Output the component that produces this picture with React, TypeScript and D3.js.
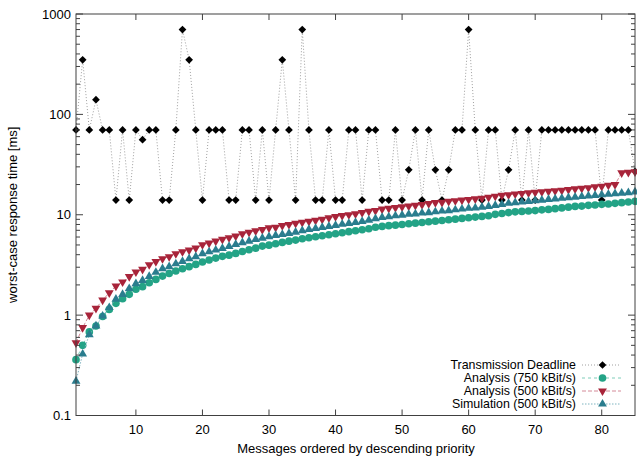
import React from 'react';
import * as d3 from 'd3';

// message index 1..85 (descending priority)
const deadline = [
  70, 350, 70, 140, 70, 70, 14, 70, 14, 70, 56, 70, 70, 14, 14, 70, 700, 350, 70, 14,
  70, 70, 70, 14, 14, 70, 70, 14, 70, 14, 70, 350, 70, 14, 700, 70, 14, 14, 70, 14,
  14, 70, 70, 14, 70, 70, 14, 14, 70, 14, 28, 70, 14, 70, 28, 14, 28, 70, 70, 700,
  70, 14, 70, 70, 14, 28, 70, 14, 70, 14, 70, 70, 70, 70, 70, 70, 70, 70, 70, 14,
  70, 70, 70, 70, 27,
];

const analysis750 = [
  0.36, 0.5, 0.68, 0.78, 0.97, 1.14, 1.31, 1.46, 1.61, 1.81, 1.92, 2.1, 2.27, 2.45, 2.6, 2.75, 2.9, 3.04, 3.2, 3.38,
  3.54, 3.7, 3.85, 3.96, 4.12, 4.3, 4.48, 4.65, 4.87, 4.98, 5.14, 5.3, 5.46, 5.59, 5.77, 5.9, 6.04, 6.18, 6.32, 6.47,
  6.62, 6.78, 6.93, 7.09, 7.26, 7.5, 7.65, 7.78, 7.88, 8.0, 8.13, 8.25, 8.38, 8.51, 8.63, 8.77, 8.91, 9.04, 9.19, 9.33,
  9.47, 9.62, 9.77, 10.1, 10.3, 10.5, 10.7, 10.8, 10.9, 11.0, 11.2, 11.3, 11.5, 11.7, 11.9, 12.1, 12.2, 12.4, 12.5, 12.7,
  12.8, 13.0, 13.2, 13.4, 13.6,
];

const analysis500 = [
  0.53, 0.75, 1.0, 1.17, 1.41, 1.67, 1.95, 2.14, 2.42, 2.69, 2.86, 3.18, 3.41, 3.65, 3.82, 4.09, 4.28, 4.45, 4.65, 5.03,
  5.22, 5.46, 5.68, 5.9, 6.12, 6.45, 6.7, 6.9, 7.1, 7.4, 7.5, 7.8, 8.0, 8.2, 8.4, 8.6, 8.8, 9.0, 9.3, 9.6,
  9.8, 10.0, 10.2, 10.5, 10.8, 11.0, 11.4, 11.6, 11.8, 12.0, 12.2, 12.4, 12.6, 12.9, 13.2, 13.3, 13.6, 13.8, 14.0, 14.2,
  14.4, 14.6, 14.9, 15.3, 15.6, 15.8, 16.1, 16.3, 16.5, 16.7, 16.9, 17.1, 17.3, 17.5, 17.8, 18.1, 18.3, 18.6, 19.0, 19.2,
  19.7, 20.0, 26.2, 26.4, 26.8,
];

const simulation500 = [
  0.22, 0.41, 0.64, 0.78, 0.98, 1.19, 1.44, 1.61, 1.84, 2.06, 2.22, 2.43, 2.67, 2.9, 3.04, 3.25, 3.43, 3.65, 3.82, 4.09,
  4.28, 4.45, 4.62, 4.84, 5.07, 5.27, 5.46, 5.68, 5.85, 6.04, 6.22, 6.37, 6.52, 6.71, 6.93, 7.14, 7.3, 7.47, 7.65, 7.83,
  8.06, 8.19, 8.38, 8.57, 8.85, 9.15, 9.4, 9.55, 9.77, 9.9, 10.1, 10.2, 10.4, 10.5, 10.7, 10.9, 11.0, 11.2, 11.4, 11.6,
  11.7, 11.9, 12.1, 12.4, 12.7, 13.0, 13.2, 13.4, 13.6, 13.8, 14.0, 14.2, 14.4, 14.6, 14.8, 15.0, 15.2, 15.4, 15.6, 15.8,
  16.0, 16.2, 16.4, 16.6, 16.9,
];

const xTicks = [10, 20, 30, 40, 50, 60, 70, 80];
const yTicks = [0.1, 1, 10, 100, 1000];
const yTickLabels = ['0.1', '1', '10', '100', '1000'];

const series = [
  { name: 'Transmission Deadline', values: deadline, color: '#000000', line: '#a0a0a0', dash: '1,2', symbol: 'diamond' },
  { name: 'Analysis (750 kBit/s)', values: analysis750, color: '#23a386', line: '#7fcdb9', dash: '3,3', symbol: 'circle' },
  { name: 'Analysis (500 kBit/s)', values: analysis500, color: '#a8243a', line: '#d48a98', dash: '4,2', symbol: 'down' },
  { name: 'Simulation (500 kBit/s)', values: simulation500, color: '#2a7d8e', line: '#7fb4c0', dash: '1.5,1.5', symbol: 'up' },
];

const width = 637;
const height = 456;
const margin = { top: 14, right: 2, bottom: 40, left: 76 };
const font = 'Liberation Sans, Arial, sans-serif';

const symbolPath = (kind: string) => {
  if (kind === 'circle') return d3.symbol(d3.symbolCircle, 46)();
  if (kind === 'diamond') return d3.symbol(d3.symbolSquare, 30)();
  return d3.symbol(d3.symbolTriangle, 34)();
};

const symbolTransform = (kind: string, x: number, y: number) => {
  if (kind === 'diamond') return `translate(${x},${y}) rotate(45)`;
  if (kind === 'down') return `translate(${x},${y}) rotate(180)`;
  return `translate(${x},${y})`;
};

const App = () => {
  const x = d3.scaleLinear().domain([1, 85]).range([margin.left, width - margin.right]);
  const y = d3.scaleLog().domain([0.1, 1000]).range([height - margin.bottom - 0.5, margin.top]);
  const x0 = margin.left;
  const x1 = width - margin.right;
  const y0 = height - margin.bottom - 0.5;
  const y1 = margin.top;

  const minor: number[] = [];
  [0.1, 1, 10, 100].forEach(d => {
    for (let k = 2; k <= 9; k++) minor.push(d * k);
  });

  const line = d3.line<number>()
    .x((_, i) => x(i + 1))
    .y(d => y(d));

  const legendX = 576;
  const legendY = [365, 378, 391, 404];

  return (
    <svg width={width} height={height} style={{ position: 'absolute', left: 0, top: 0, background: '#fff' }}>
      {/* series */}
      {series.map(s => (
        <g key={s.name}>
          <path d={line(s.values) || ''} fill="none" stroke={s.line} strokeWidth={1} strokeDasharray={s.dash} />
          {s.values.map((v, i) => (
            <path key={i} d={symbolPath(s.symbol) || ''} transform={symbolTransform(s.symbol, x(i + 1), y(v))} fill={s.color} />
          ))}
        </g>
      ))}

      {/* frame */}
      <rect x={x0} y={y1} width={x1 - x0} height={y0 - y1} fill="none" stroke="#404040" strokeWidth={1} />

      {/* x ticks */}
      {xTicks.map(t => (
        <g key={t}>
          <line x1={x(t)} x2={x(t)} y1={y0} y2={y0 - 6} stroke="#404040" />
          <line x1={x(t)} x2={x(t)} y1={y1} y2={y1 + 6} stroke="#404040" />
          <text x={x(t)} y={434} textAnchor="middle" fontFamily={font} fontSize={13} fill="#000">{t}</text>
        </g>
      ))}

      {/* y ticks */}
      {yTicks.map((t, i) => (
        <g key={t}>
          <line x1={x0} x2={x0 + 7} y1={y(t)} y2={y(t)} stroke="#404040" />
          <line x1={x1} x2={x1 - 7} y1={y(t)} y2={y(t)} stroke="#404040" />
          <text x={71} y={y(t) + 4.5} textAnchor="end" fontFamily={font} fontSize={13} fill="#000">{yTickLabels[i]}</text>
        </g>
      ))}
      {minor.map(t => (
        <g key={'m' + t}>
          <line x1={x0} x2={x0 + 4} y1={y(t)} y2={y(t)} stroke="#404040" />
          <line x1={x1} x2={x1 - 4} y1={y(t)} y2={y(t)} stroke="#404040" />
        </g>
      ))}

      {/* axis titles */}
      <text x={356} y={453} textAnchor="middle" fontFamily={font} fontSize={13} fill="#000">
        Messages ordered by descending priority
      </text>
      <text transform={`translate(17,${(y0 + y1) / 2}) rotate(-90)`} textAnchor="middle" fontFamily={font} fontSize={13} fill="#000">
        worst-case response time [ms]
      </text>

      {/* legend */}
      {series.map((s, i) => (
        <g key={'lg' + s.name}>
          <text x={legendX} y={legendY[i] + 4} textAnchor="end" fontFamily={font} fontSize={12.4} fill="#000">{s.name}</text>
          <line x1={582} x2={621} y1={legendY[i]} y2={legendY[i]} stroke={s.line} strokeDasharray={s.dash} />
          <path d={symbolPath(s.symbol) || ''} transform={symbolTransform(s.symbol, 602.5, legendY[i])} fill={s.color} />
        </g>
      ))}
    </svg>
  );
};

export default App;
